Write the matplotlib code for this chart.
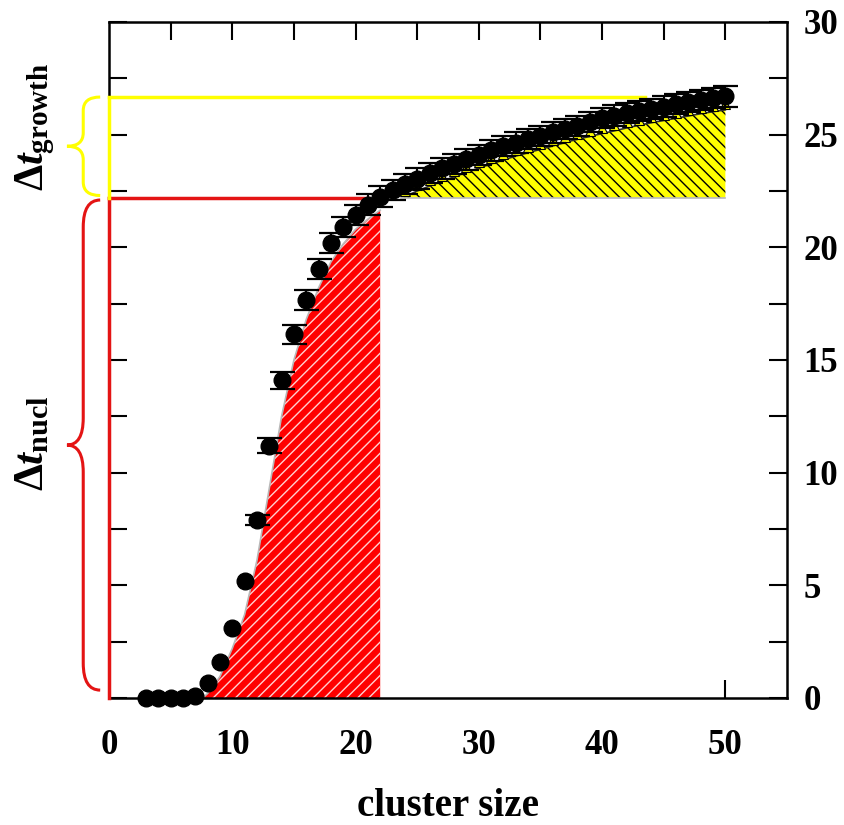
import matplotlib
matplotlib.use("Agg")
import matplotlib.pyplot as plt
import numpy as np
from matplotlib.path import Path
from matplotlib.patches import PathPatch
from matplotlib.transforms import blended_transform_factory
from matplotlib.ticker import FixedLocator

plt.rcParams['font.family'] = ['Liberation Serif', 'DejaVu Serif']
plt.rcParams['font.weight'] = 'bold'
plt.rcParams['mathtext.fontset'] = 'custom'
plt.rcParams['mathtext.rm'] = 'Liberation Serif:bold'
plt.rcParams['mathtext.it'] = 'Liberation Serif:bold:italic'
plt.rcParams['mathtext.bf'] = 'Liberation Serif:bold'
plt.rcParams['hatch.linewidth'] = 1.0

# ---- data ----
cluster_size = [3, 4, 5, 6, 7, 8, 9, 10, 11, 12, 13, 14, 15, 16, 17, 18, 19, 20, 21, 22,
                23, 24, 25, 26, 27, 28, 29, 30, 31, 32, 33, 34, 35, 36, 37, 38, 39, 40,
                41, 42, 43, 44, 45, 46, 47, 48, 49, 50]
time_vals = [0.0, 0.0, 0.0, 0.0, 0.1, 0.65, 1.6, 3.1, 5.2, 7.9, 11.2, 14.1, 16.15, 17.65,
             19.05, 20.2, 20.9, 21.45, 21.9, 22.25,
             22.55, 22.8, 23.05, 23.3, 23.5, 23.7, 23.9, 24.1, 24.3, 24.5, 24.65, 24.8,
             24.95, 25.1, 25.25, 25.4, 25.55, 25.75, 25.85, 25.95, 26.05, 26.15, 26.25,
             26.35, 26.45, 26.55, 26.62, 26.7]
time_err = [0.05, 0.05, 0.05, 0.05, 0.05, 0.05, 0.05, 0.08, 0.1, 0.22, 0.33, 0.38, 0.42, 0.45,
            0.45, 0.45, 0.45, 0.45, 0.45, 0.45,
            0.45, 0.45, 0.45, 0.45, 0.45, 0.45, 0.45, 0.45, 0.45, 0.45, 0.45, 0.45,
            0.45, 0.45, 0.45, 0.45, 0.45, 0.45, 0.45, 0.45, 0.45, 0.45, 0.45,
            0.45, 0.45, 0.45, 0.45, 0.45]

fit_x = [7.6, 8, 9, 10, 11, 12, 13, 14, 15, 16, 17, 18, 19, 20, 21, 22,
         23, 24, 25, 26, 27, 28, 29, 30, 31, 32, 33, 34, 35, 36, 37, 38, 39, 40,
         41, 42, 43, 44, 45, 46, 47, 48, 49, 50]
fit_y = [0.0, 0.2, 0.95, 2.2, 3.7, 6.1, 9.3, 12.5, 15.0, 16.8, 18.2, 19.35, 20.15, 20.8,
         21.25, 21.65,
         22.0, 22.25, 22.5, 22.72, 22.93, 23.13, 23.33, 23.52, 23.7, 23.88, 24.05, 24.2,
         24.35, 24.5, 24.65, 24.8, 24.92, 25.05, 25.17, 25.3, 25.42, 25.53, 25.63, 25.73,
         25.83, 25.93, 26.02, 26.1]

tri_x = [24, 25, 26, 27, 28, 29, 30, 31, 32, 33, 34, 35, 36, 37, 38, 39, 40, 41, 42,
         43, 44, 45, 46, 47, 48, 49, 50]
tri_y = [22.5, 22.75, 22.97, 23.18, 23.38, 23.58, 23.77, 23.95, 24.13, 24.3, 24.45, 24.6,
         24.75, 24.9, 25.05, 25.17, 25.3, 25.42, 25.55, 25.67, 25.78, 25.88, 25.98, 26.08,
         26.18, 26.27, 26.35]

t_nucl = 22.2       # end of nucleation
t_growth = 26.65    # end of growth
nucl_line_end = 21.0
growth_line_end = 43.5

xticks = [0, 10, 20, 30, 40, 50]
yticks = [0, 5, 10, 15, 20, 25, 30]

RED = '#e41414'
YEL = '#ffff00'

fig = plt.figure(figsize=(8.44, 8.25), dpi=100)
ax = fig.add_axes([109/844, 1-698/825, (787-109)/844, (698-22)/825])
ax.set_xlim(0, 55)
ax.set_ylim(0, 30)

fx = np.array(fit_x)
fy = np.array(fit_y)
red_mask = fx <= 22
ax.fill_between(fx[red_mask], 0, fy[red_mask], facecolor='#ff0000', edgecolor='#ffd0d0',
                hatch='///', linewidth=0, zorder=1)
ax.plot(fx[red_mask], fy[red_mask], color='#b8b8b8', lw=1.2, zorder=1.5)

ym = fx >= 22
ax.fill_between(fx[ym], t_nucl, fy[ym], where=fy[ym] >= t_nucl, interpolate=True,
                facecolor=YEL, edgecolor='black', hatch='\\\\\\', linewidth=0, zorder=1)
ax.plot(fx[ym][fy[ym] >= t_nucl], fy[ym][fy[ym] >= t_nucl], color='#303030', lw=1.2, zorder=1.5)
ax.plot([23.7, 50], [t_nucl, t_nucl], color='#b8b8b8', lw=1.2, zorder=1.5)

# guide lines
ax.plot([0, 0], [0, t_nucl], color=RED, lw=2.5, clip_on=False, zorder=6)
ax.plot([0, nucl_line_end], [t_nucl, t_nucl], color=RED, lw=2.5, clip_on=False, zorder=2)
ax.plot([0, 0], [t_nucl, t_growth], color=YEL, lw=2.5, clip_on=False, zorder=6)
ax.plot([0, growth_line_end], [t_growth, t_growth], color=YEL, lw=2.5, clip_on=False, zorder=2)

# triangles
ax.plot(tri_x, tri_y, linestyle='none', marker='^', ms=7, mfc=YEL, mec='black', mew=0.8, zorder=3)

# data (small errors drawn without visible caps)
cs = np.array(cluster_size)
tv = np.array(time_vals)
te = np.array(time_err)
big = te >= 0.2
ax.errorbar(cs[big], tv[big], yerr=te[big], fmt='o', color='black', ms=12,
            capsize=9, elinewidth=1.5, capthick=1.6, zorder=4)
ax.errorbar(cs[~big], tv[~big], yerr=te[~big], fmt='o', color='black', ms=12,
            capsize=0, elinewidth=1.5, zorder=4, clip_on=False)

# ticks
ax.xaxis.remove_overlapping_locs = False
ax.set_xticks(xticks)
ax.set_xticklabels([str(v) for v in xticks])
ax.xaxis.set_minor_locator(FixedLocator([50]))
ax.tick_params(axis='x', which='major', length=0, pad=22, labelsize=25)
ax.tick_params(axis='x', which='minor', direction='in', length=13, width=1.5, bottom=True, top=False)

ax.set_yticks(yticks)
ax.set_yticklabels([str(v) for v in yticks])
ax.yaxis.set_minor_locator(FixedLocator([2.5, 7.5, 12.5, 17.5, 22.5, 27.5]))
ax.tick_params(axis='y', which='both', direction='in', length=13, width=1.5,
               left=True, right=True, labelleft=False, labelright=True)
ax.tick_params(axis='y', which='major', pad=12, labelsize=25)

secx = ax.secondary_xaxis('top')
secx.set_xticks([5, 10, 15, 20, 25, 30, 35, 40, 45, 50])
secx.tick_params(direction='in', length=13, width=1.5, labeltop=False)
secx.spines['top'].set_visible(False)

for s in ax.spines.values():
    s.set_linewidth(1.8)

for lab in ax.get_xticklabels() + ax.get_yticklabels():
    lab.set_fontweight('bold')

fig.text(448/844, 0.5/825, 'cluster size', ha='center', va='bottom',
         fontsize=28, fontweight='bold')

# braces
trans = blended_transform_factory(ax.transAxes, ax.transData)

def brace(y0, y1, color, r, x_end=-0.013, x_body=-0.038, x_tip=-0.062):
    ymid = 0.5 * (y0 + y1)
    verts = [(x_end, y1), (x_body, y1), (x_body, y1 - r),
             (x_body, ymid + r), (x_body, ymid), (x_tip, ymid),
             (x_body, ymid), (x_body, ymid - r),
             (x_body, y0 + r), (x_body, y0), (x_end, y0)]
    codes = [Path.MOVETO, Path.CURVE3, Path.CURVE3,
             Path.LINETO, Path.CURVE3, Path.CURVE3,
             Path.CURVE3, Path.CURVE3,
             Path.LINETO, Path.CURVE3, Path.CURVE3]
    p = PathPatch(Path(verts, codes), facecolor='none', edgecolor=color, lw=2.2,
                  transform=trans, clip_on=False)
    ax.add_patch(p)

brace(22.3, 26.67, YEL, 0.6)
brace(0.35, 22.1, RED, 1.2)

fig.text(35/844, 1-127/825, r'$\Delta\mathit{t}_{\mathrm{growth}}$', rotation=90,
         ha='center', va='center', fontsize=30)
fig.text(33/844, 1-443/825, r'$\Delta\mathit{t}_{\mathrm{nucl}}$', rotation=90,
         ha='center', va='center', fontsize=31)

fig.savefig('out.png', dpi=100)
